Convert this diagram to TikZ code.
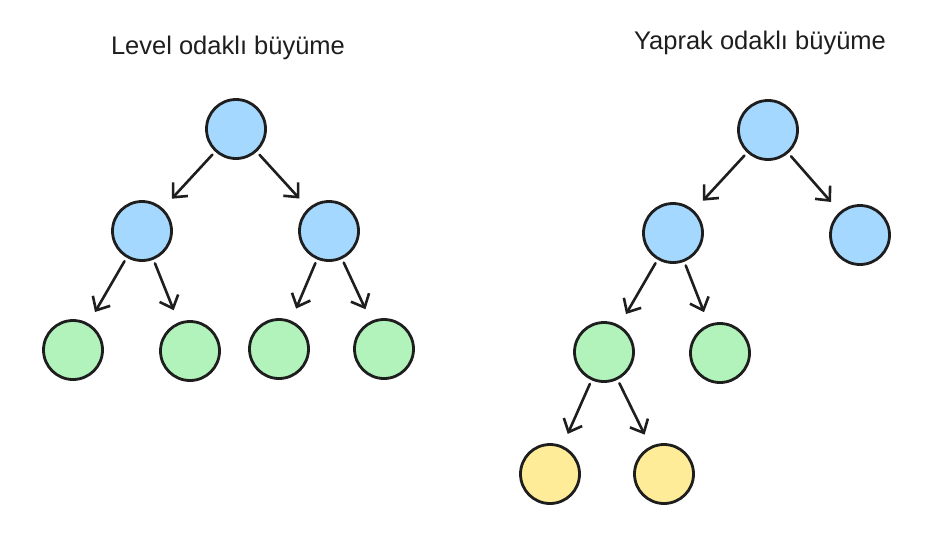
\documentclass[tikz,border=0pt]{standalone}
\usepackage{fontspec}
\setmainfont{Liberation Sans}
\usepackage{tikz}
\usetikzlibrary{arrows.meta}

\definecolor{ink}{HTML}{1E1E1E}
\definecolor{skyfill}{HTML}{A5D8FF}
\definecolor{mintfill}{HTML}{B2F2BB}
\definecolor{sandfill}{HTML}{FFEC99}

\begin{document}
\begin{tikzpicture}[x=1pt, y=-1pt,
    every node/.style={inner sep=0pt},
    leaf/.style={circle, draw=ink, line width=2.8pt, minimum size=59pt},
    title/.style={text=ink, font=\fontsize{25.5}{30}\selectfont},
    edge/.style={-{Straight Barb[length=11pt, width=20pt, line width=2.6pt]}, draw=ink, line width=2.6pt, line cap=round, shorten <=4pt, shorten >=13pt}]
            \useasboundingbox (0, 0) rectangle (945, 543);

            % level-wise
            \node[title] at (228, 48)   (t1) {Level odaklı büyüme};
            \node[leaf, fill=skyfill] at (236, 129)   (a) {};
            \node[leaf, fill=skyfill] at (142, 231)   (b) {};
            \node[leaf, fill=skyfill] at (329, 231)   (c) {};
            \node[leaf, fill=mintfill] at (73, 350)   (d) {};
            \node[leaf, fill=mintfill] at (190, 351)   (e) {};
            \node[leaf, fill=mintfill] at (279, 349)   (f) {};
            \node[leaf, fill=mintfill] at (384, 349)   (g) {};

            \draw [edge] (a) -- (b);
            \draw [edge] (a) -- (c);
            \draw [edge] (b) -- (d);
            \draw [edge] (b) -- (e);
            \draw [edge] (c) -- (f);
            \draw [edge] (c) -- (g);

            % leaf-wise
            \node[title] at (760, 43)   (t2) {Yaprak odaklı büyüme};
            \node[leaf, fill=skyfill] at (768, 130)   (p) {};
            \node[leaf, fill=skyfill] at (673, 233)   (q) {};
            \node[leaf, fill=skyfill] at (860, 235)   (r) {};
            \node[leaf, fill=mintfill] at (604, 352)   (s) {};
            \node[leaf, fill=mintfill] at (720, 353)   (u) {};
            \node[leaf, fill=sandfill] at (550, 474)   (v) {};
            \node[leaf, fill=sandfill] at (664, 474)   (w) {};

            \draw [edge] (p) -- (q);
            \draw [edge] (p) -- (r);
            \draw [edge] (q) -- (s);
            \draw [edge] (q) -- (u);
            \draw [edge] (s) -- (v);
            \draw [edge] (s) -- (w);
        \end{tikzpicture}
\end{document}
